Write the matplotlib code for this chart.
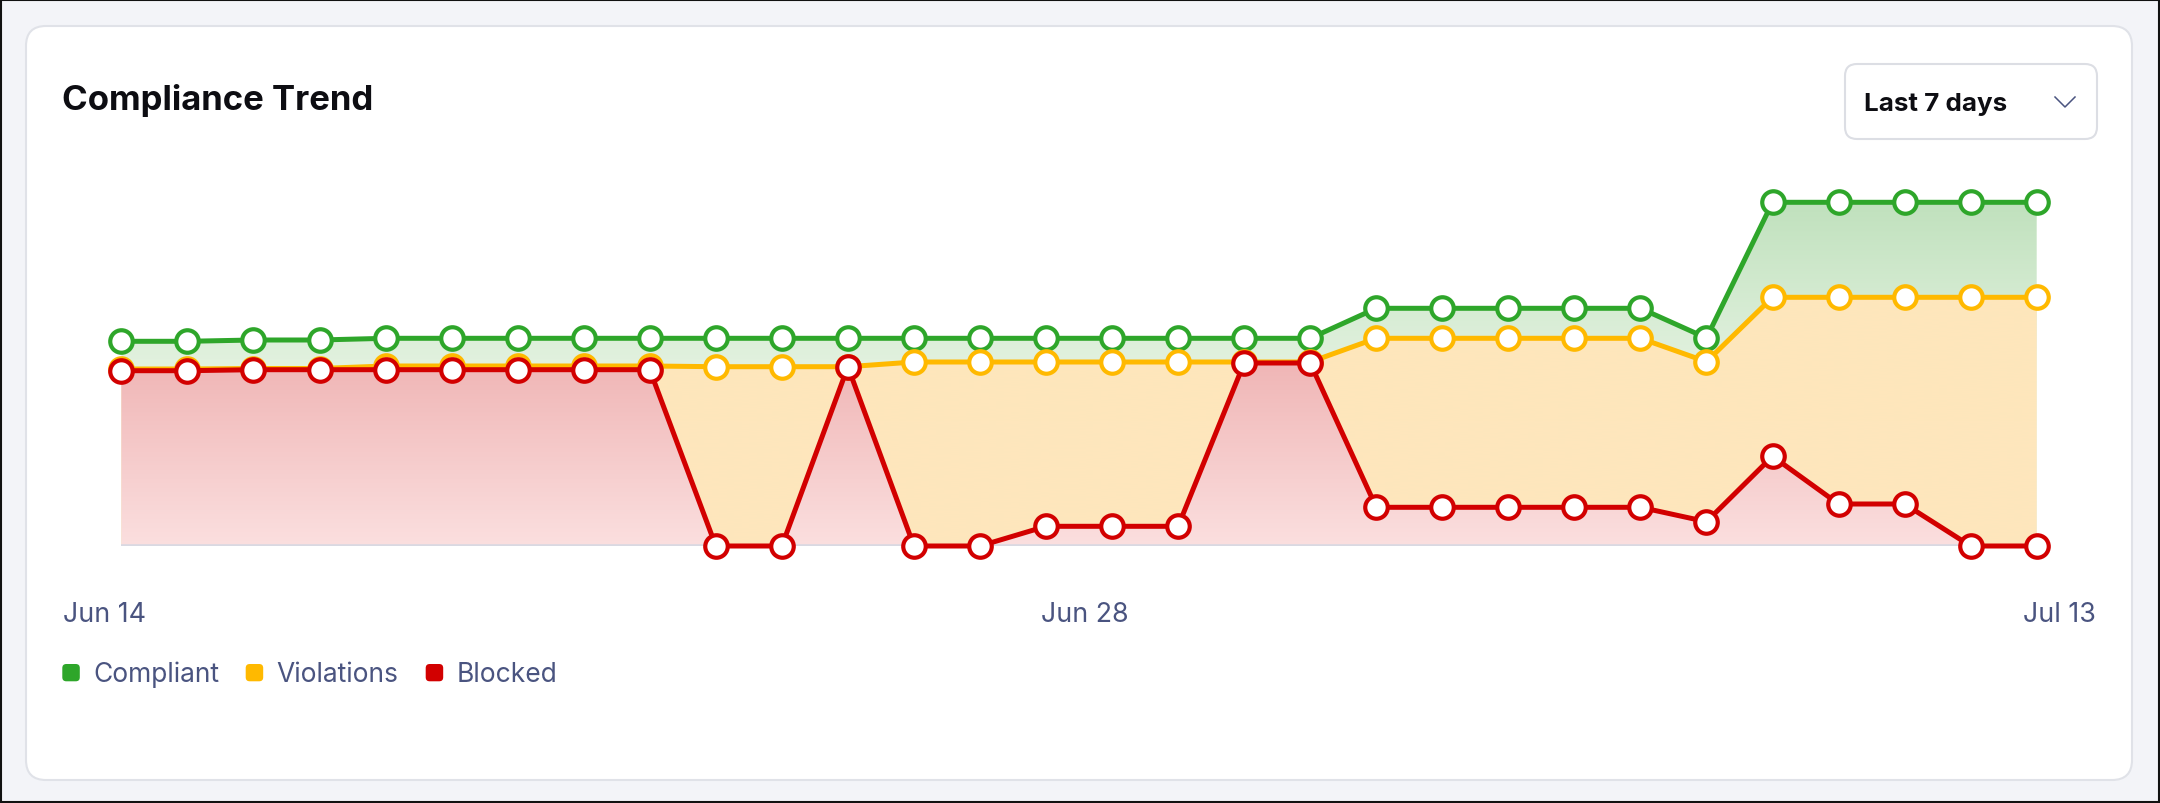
import numpy as np
import matplotlib
matplotlib.use("Agg")
import matplotlib.pyplot as plt
from matplotlib.patches import FancyBboxPatch, Polygon, Rectangle
from matplotlib.transforms import IdentityTransform
from matplotlib.colors import to_rgb

# ---------------- data ----------------
days = ["Jun 14", "Jun 15", "Jun 16", "Jun 17", "Jun 18", "Jun 19", "Jun 20", "Jun 21",
        "Jun 22", "Jun 23", "Jun 24", "Jun 25", "Jun 26", "Jun 27", "Jun 28", "Jun 29",
        "Jun 30", "Jul 1", "Jul 2", "Jul 3", "Jul 4", "Jul 5", "Jul 6", "Jul 7",
        "Jul 8", "Jul 9", "Jul 10", "Jul 11", "Jul 12", "Jul 13"]
compliant = [204.7, 204.7, 206, 206, 207.7, 207.7, 207.7, 207.7, 207.7, 207.7,
             207.7, 207.7, 207.7, 207.7, 207.7, 207.7, 207.7, 207.7, 207.7, 237.7,
             237.7, 237.7, 237.7, 237.7, 208, 343.7, 343.7, 343.7, 343.7, 343.7]
violations = [177, 177, 177.5, 177.5, 180, 180, 180, 180, 180, 179.3,
              179.3, 179.3, 184, 184, 184, 184, 184, 184, 184, 207.7,
              207.7, 207.7, 207.7, 207.7, 184.3, 248.7, 248.7, 248.7, 248.7, 248.7]
blocked = [175.3, 175.3, 176.3, 176.3, 176.3, 176.3, 176.3, 176.3, 176.3, 0,
           0, 179.3, 0, 0, 19.7, 19.7, 19.7, 183, 183, 38.7,
           38.7, 38.7, 38.7, 38.7, 24.3, 89.7, 42, 42, 0, 0]
tick_labels = ["Jun 14", "Jun 28", "Jul 13"]
series_names = ["Compliant", "Violations", "Blocked"]

# ---------------- style ----------------
W, H = 2160, 804
GREEN = "#2ea62a"
YELLOW = "#ffb900"
RED = "#d20000"
TEXT = "#4a5480"
BG = "#f3f4f8"
BORDER = "#e0e2e8"
FONT = "Inter"

fig = plt.figure(figsize=(W / 100, H / 100), dpi=100)
fig.patch.set_facecolor(BG)
PX = IdentityTransform()


def fy(y):  # image y (from top) -> display y (from bottom)
    return H - y


# card
card = FancyBboxPatch((26, fy(781)), 2132 - 26, 781 - 27,
                      boxstyle="round,pad=0,rounding_size=20",
                      transform=PX, facecolor="white", edgecolor=BORDER,
                      linewidth=1.5, zorder=0)
fig.add_artist(card)
# outer dark frame
fig.add_artist(Rectangle((1, 1), W - 2, H - 2, transform=PX, fill=False,
                         edgecolor="#111111", linewidth=1.5, zorder=10))

# title
fig.text(62, fy(110), "Compliance Trend", transform=PX, fontfamily=FONT,
         fontweight="bold", fontsize=25.0, color="#0d0d12", va="baseline", ha="left")

# dropdown
dd = FancyBboxPatch((1845, fy(140)), 2097 - 1845, 140 - 65,
                    boxstyle="round,pad=0,rounding_size=12", transform=PX,
                    facecolor="white", edgecolor="#dcdee4", linewidth=1.5, zorder=1)
fig.add_artist(dd)
fig.text(1864, fy(111.5), "Last 7 days", transform=PX, fontfamily=FONT,
         fontweight="bold", fontsize=18.7, color="#0d0d12", va="baseline", ha="left")
fig.add_artist(plt.Line2D([2055, 2065, 2075], [fy(98), fy(108), fy(98)],
                          transform=PX, color=TEXT, linewidth=1.1))

# ---------------- chart ----------------
x = np.arange(len(days))
ax_left, ax_right = 121.4, 2036.7
ax_bottom, ax_top = 547.0, 180.0
ax = fig.add_axes([ax_left / W, 1 - ax_bottom / H, (ax_right - ax_left) / W,
                   (ax_bottom - ax_top) / H])
ax.set_xlim(0, len(days) - 1)
ymax = 367
ax.set_ylim(0, ymax)
ax.axis("off")


def gradient_fill(vals, stops, z):
    """stops: list of (value, colour) pairs for a vertical gradient."""
    verts = [(x[0], 0)] + list(zip(x, vals)) + [(x[-1], 0)]
    poly = Polygon(verts, closed=True, facecolor="none", edgecolor="none",
                   transform=ax.transData)
    ax.add_patch(poly)
    yy = np.linspace(0, ymax, 400)
    sv = [s[0] for s in stops]
    cols = np.array([to_rgb(s[1]) for s in stops])
    img = np.zeros((len(yy), 1, 3))
    for c in range(3):
        img[:, 0, c] = np.interp(yy, sv, cols[:, c])
    im = ax.imshow(img, extent=(x[0], x[-1], 0, ymax), origin="lower",
                   aspect="auto", interpolation="bilinear", zorder=z)
    im.set_clip_path(poly)


gradient_fill(compliant, [(177, "#e3f2e0"), (344, "#c0e1bd")], 1)
gradient_fill(violations, [(0, "#fee7bd"), (250, "#fee6bb")], 2)
gradient_fill(blocked, [(0, "#fbdfdf"), (183, "#f0b6b6")], 3)

ax.set_xlim(0, len(days) - 1)
ax.set_ylim(0, ymax)

# baseline
ax.plot([x[0], x[-1]], [0, 0], color="#d9d9e2", linewidth=2.6, zorder=4,
        solid_capstyle="butt")

for vals, col, z in [(compliant, GREEN, 5), (violations, YELLOW, 6), (blocked, RED, 7)]:
    ax.plot(x, vals, color=col, linewidth=3.6, marker="o", markersize=16.2,
            markerfacecolor="white", markeredgecolor=col, markeredgewidth=3.0,
            zorder=z, clip_on=False, solid_joinstyle="round")

# x labels (justified across the card)
TICK_FS = 19.3
fig.text(62.7, fy(621.7), tick_labels[0], transform=PX, fontfamily=FONT,
         fontsize=TICK_FS, color=TEXT, ha="left", va="baseline")
fig.text(1041, fy(621.7), tick_labels[1], transform=PX, fontfamily=FONT,
         fontsize=TICK_FS, color=TEXT, ha="left", va="baseline")
fig.text(2095.5, fy(621.7), tick_labels[2], transform=PX, fontfamily=FONT,
         fontsize=TICK_FS, color=TEXT, ha="right", va="baseline")

# legend
legend_sq_x = [62.3, 245.7, 425.7]
for name, col, sx in zip(series_names, [GREEN, YELLOW, RED], legend_sq_x):
    sq = FancyBboxPatch((sx, fy(682.3)), 17.5, 17.3,
                        boxstyle="round,pad=0,rounding_size=4", transform=PX,
                        facecolor=col, edgecolor="none")
    fig.add_artist(sq)
    fig.text(sx + 31, fy(681.7), name, transform=PX, fontfamily=FONT,
             fontsize=19.0, color=TEXT, ha="left", va="baseline")

fig.savefig("out.png", dpi=100, facecolor=fig.get_facecolor())
